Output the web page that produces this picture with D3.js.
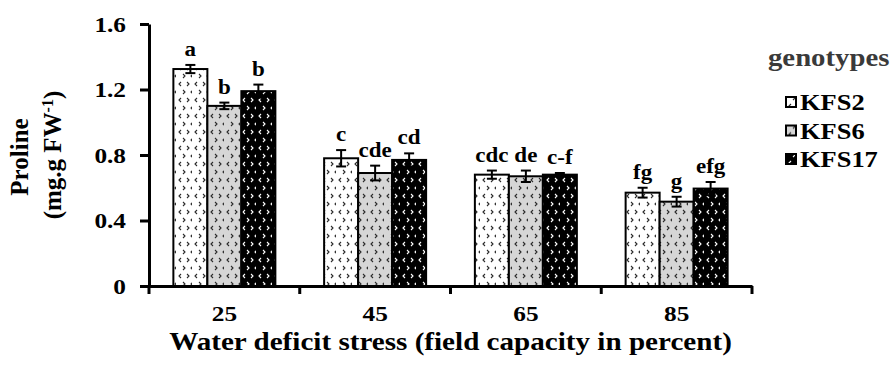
<!DOCTYPE html>
<html>
<head>
<meta charset="utf-8">
<script src="https://cdn.jsdelivr.net/npm/d3@7"></script>
<style>
  body { margin: 0; background: #fff; }
  text { font-family: "Liberation Serif", "Times New Roman", serif; font-weight: bold; }
</style>
</head>
<body>
<div id="chart"></div>
<script>
// data
var categories = ["25", "45", "65", "85"];
var genotypes = ["KFS2", "KFS6", "KFS17"];
var kfs2 = [1.325, 0.78, 0.68, 0.57];
var kfs6 = [1.10, 0.69, 0.67, 0.515];
var kfs17 = [1.19, 0.77, 0.68, 0.595];
var kfs2_err = [0.025, 0.05, 0.025, 0.03];
var kfs6_err = [0.02, 0.045, 0.035, 0.03];
var kfs17_err = [0.04, 0.04, 0.01, 0.04];
var kfs2_letters = ["a", "c", "cdc", "fg"];
var kfs6_letters = ["b", "cde", "de", "g"];
var kfs17_letters = ["b", "cd", "c-f", "efg"];
var yTicks = [0, 0.4, 0.8, 1.2, 1.6];

var width = 896, height = 367;
var sx = 1.15; // text in the original is a bit wide

var svg = d3.select("#chart").append("svg")
  .attr("width", width).attr("height", height)

var x0 = d3.scaleBand().domain(categories).range([149, 752]).padding(0)
var x1 = d3.scaleBand().domain(genotypes).range([0, x0.bandwidth()]).paddingInner(0).paddingOuter(0.717)
var y = d3.scaleLinear().domain([0, 1.6]).range([286, 24])

// patterns for bars
var fills = { KFS2: ["#ffffff", "#2a2a2a"], KFS6: ["#d6d6d6", "#2a2a2a"], KFS17: ["#000000", "#fff"] }
var defs = svg.append("defs")
genotypes.forEach(function(g, i) {
  var p = defs.append("pattern").attr("id", "pat" + i)
    .attr("patternUnits", "userSpaceOnUse").attr("width", 16).attr("height", 16)
  p.append("rect").attr("width", 16).attr("height", 16).attr("fill", fills[g][0])
  var marks = [[3, 2, "<"], [11, 2, ">"], [7, 10, ">"], [15, 10, "<"]]
  marks.forEach(function(m) {
    var path = m[2] == "<" ? "M" + (m[0] + 2) + "," + m[1] + " l-2,2 l2,2" : "M" + m[0] + "," + m[1] + " l2,2 l-2,2"
    p.append("path").attr("d", path).attr("fill", "none").attr("stroke", fills[g][1]).attr("stroke-width", 1.1)
  })
})

var rows = []
categories.forEach(function(c, i) {
  rows.push({ cat: c, g: "KFS2", v: kfs2[i], e: kfs2_err[i], l: kfs2_letters[i], k: 0 })
  rows.push({ cat: c, g: "KFS6", v: kfs6[i], e: kfs6_err[i], l: kfs6_letters[i], k: 1 })
  rows.push({ cat: c, g: "KFS17", v: kfs17[i], e: kfs17_err[i], l: kfs17_letters[i], k: 2 })
})

function cx(d) { return x0(d.cat) + x1(d.g) + x1.bandwidth() / 2 }

// bars
svg.append("g").selectAll("rect").data(rows).enter().append("rect")
  .attr("x", function(d) { return x0(d.cat) + x1(d.g) })
  .attr("y", function(d) { return y(d.v) })
  .attr("width", x1.bandwidth())
  .attr("height", function(d) { return y(0) - y(d.v) })
  .attr("fill", function(d) { return "url(#pat" + d.k + ")" })
  .attr("stroke", "#000").attr("stroke-width", 2)

// error bars
var eb = svg.append("g").attr("stroke", "#000").attr("stroke-width", 2)
eb.selectAll(".v").data(rows).enter().append("line")
  .attr("x1", cx).attr("x2", cx)
  .attr("y1", function(d) { return y(d.v + d.e) })
  .attr("y2", function(d) { return y(d.v - d.e) })
eb.selectAll(".t").data(rows).enter().append("line")
  .attr("x1", function(d) { return cx(d) - 5 }).attr("x2", function(d) { return cx(d) + 5 })
  .attr("y1", function(d) { return y(d.v + d.e) }).attr("y2", function(d) { return y(d.v + d.e) })
eb.selectAll(".b").data(rows).enter().append("line")
  .attr("x1", function(d) { return cx(d) - 5 }).attr("x2", function(d) { return cx(d) + 5 })
  .attr("y1", function(d) { return y(d.v - d.e) }).attr("y2", function(d) { return y(d.v - d.e) })

// letters above the bars
svg.append("g").selectAll("text").data(rows).enter().append("text")
  .attr("transform", function(d) { return "translate(" + cx(d) + "," + (y(d.v + d.e) - 9) + ") scale(" + sx + ",1)" })
  .attr("text-anchor", "middle")
  .style("font-size", "20px")
  .text(function(d) { return d.l })

// stretch axis text around its own anchor
function stretch(sel) {
  sel.selectAll("text").each(function() {
    var t = d3.select(this)
    var tx = +t.attr("x") || 0
    t.attr("transform", "translate(" + tx + ",0) scale(" + sx + ",1) translate(" + (-tx) + ",0)")
  })
}

// y axis
var yAxis = svg.append("g").attr("transform", "translate(149,0)")
  .call(d3.axisLeft(y).tickValues(yTicks).tickSize(9).tickSizeOuter(0).tickPadding(14)
    .tickFormat(function(d) { return d === 0 ? "0" : d3.format(".1f")(d) }))
yAxis.select(".domain").attr("stroke-width", 3)
yAxis.selectAll(".tick line").attr("stroke-width", 3)
yAxis.selectAll("text").style("font-size", "22px").attr("fill", "#000").style("font-family", null)
yAxis.call(stretch)

// x axis
var xAxis = svg.append("g").attr("transform", "translate(0,286)")
  .call(d3.axisBottom(x0).tickSize(0).tickSizeOuter(0).tickPadding(19.5))
xAxis.select(".domain").attr("stroke-width", 3)
xAxis.selectAll("text").style("font-size", "22px").attr("fill", "#000").style("font-family", null)
xAxis.call(stretch)
var edges = categories.map(function(c) { return x0(c) }).concat([x0.range()[1]])
xAxis.selectAll(".edge").data(edges).enter().append("line")
  .attr("x1", function(d) { return d }).attr("x2", function(d) { return d })
  .attr("y1", 0).attr("y2", 8)
  .attr("stroke", "#000").attr("stroke-width", 3)

// axis titles
svg.append("text")
  .attr("transform", "translate(" + ((x0.range()[0] + x0.range()[1]) / 2) + ",350) scale(1.12,1)")
  .attr("text-anchor", "middle")
  .style("font-size", "26px")
  .text("Water deficit stress (field capacity in percent)")

svg.append("text")
  .attr("transform", "translate(28,157) rotate(-90)")
  .attr("text-anchor", "middle")
  .style("font-size", "25px")
  .text("Proline")
var yl2 = svg.append("text")
  .attr("transform", "translate(61,155) rotate(-90)")
  .attr("text-anchor", "middle")
  .style("font-size", "25px")
yl2.append("tspan").text("(mg.g FW")
yl2.append("tspan").attr("dy", -8).style("font-size", "16px").text("-1")
yl2.append("tspan").attr("dy", 8).text(")")

// legend
svg.append("text")
  .attr("transform", "translate(768,66) scale(" + sx + ",1)")
  .style("font-size", "25px").attr("fill", "#3a3a3a")
  .text("genotypes")
var leg = svg.append("g").selectAll("g").data(genotypes).enter().append("g")
  .attr("transform", function(d, i) { return "translate(786," + (102 + i * 28.5) + ")" })
leg.append("rect").attr("x", 0).attr("y", -5).attr("width", 10).attr("height", 10)
  .attr("fill", function(d, i) { return "url(#pat" + i + ")" })
  .attr("stroke", "#000").attr("stroke-width", 2)
leg.append("text")
  .attr("transform", "translate(14,8) scale(" + sx + ",1)")
  .style("font-size", "23px")
  .text(function(d) { return d })
</script>
</body>
</html>
